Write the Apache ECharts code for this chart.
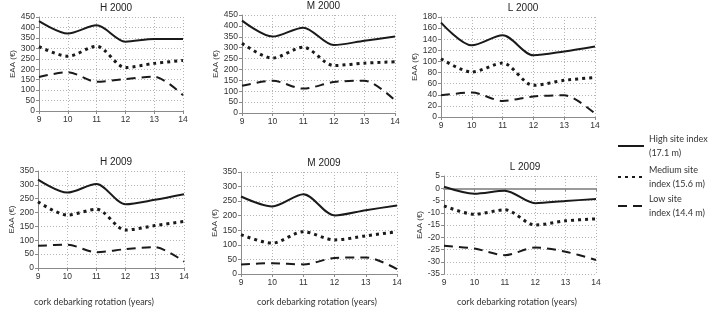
<!DOCTYPE html>
<html>
<head>
<meta charset="utf-8">
<script src="https://cdn.jsdelivr.net/npm/echarts@6/dist/echarts.min.js"></script>
<style>
  html, body { margin: 0; padding: 0; background: #fff; }
  #chart { width: 708px; height: 309px; }
</style>
</head>
<body>
<div id="chart"></div>
<script>
// rotation length (years)
const years = ['9', '10', '11', '12', '13', '14'];

// EAA values, one array per panel and site index
const h2000High = [430, 371, 410, 332, 345, 345];
const h2000Medium = [308, 262, 310, 208, 228, 242];
const h2000Low = [163, 186, 140, 153, 164, 75];

const m2000High = [424, 351, 392, 312, 332, 351];
const m2000Medium = [320, 252, 302, 218, 229, 235];
const m2000Low = [125, 148, 112, 142, 148, 58];

const l2000High = [170, 129, 147, 111, 118, 127];
const l2000Medium = [105, 81, 97, 57, 66, 71];
const l2000Low = [39, 44, 29, 37, 39, 6];

const h2009High = [319, 272, 303, 230, 246, 266];
const h2009Medium = [239, 191, 212, 137, 153, 168];
const h2009Low = [80, 84, 57, 68, 75, 23];

const m2009High = [266, 232, 274, 201, 219, 235];
const m2009Medium = [135, 106, 145, 117, 131, 145];
const m2009Low = [33, 37, 33, 55, 57, 17];

const l2009High = [0.6, -2.2, -1, -6.1, -5.2, -4.4];
const l2009Medium = [-7.2, -10.6, -8.8, -15, -13.3, -12.5];
const l2009Low = [-23.5, -24.6, -27.3, -24.2, -25.9, -29.3];

const seriesNames = ['High site index\n(17.1 m)', 'Medium site\nindex (15.6 m)', 'Low site\nindex (14.4 m)'];

const panels = [
  { title: 'H 2000', grid: [39, 17, 144, 94], y: [0, 450, 50], data: [h2000High, h2000Medium, h2000Low] },
  { title: 'M 2000', grid: [242, 15, 153, 98], y: [0, 450, 50], data: [m2000High, m2000Medium, m2000Low] },
  { title: 'L 2000', grid: [441, 17, 154, 100], y: [0, 180, 20], data: [l2000High, l2000Medium, l2000Low] },
  { title: 'H 2009', grid: [38, 171, 146, 97], y: [0, 350, 50], data: [h2009High, h2009Medium, h2009Low] },
  { title: 'M 2009', grid: [241, 172, 156, 102], y: [0, 350, 50], data: [m2009High, m2009Medium, m2009Low] },
  { title: 'L 2009', grid: [444, 176, 152, 98], y: [-35, 5, 5], data: [l2009High, l2009Medium, l2009Low] }
];

const lineStyles = [
  { color: '#1a1a1a', width: 2, type: 'solid' },
  { color: '#1a1a1a', width: 3, type: [3, 4], cap: 'butt' },
  { color: '#1a1a1a', width: 2, type: [9, 6], cap: 'butt' }
];

const axisFont = { fontFamily: 'Liberation Sans', fontSize: 8.5, color: '#333' };
const gridLine = { show: true, lineStyle: { color: '#b5b5b5', type: [1, 2], width: 1 } };

const chart = echarts.init(document.getElementById('chart'));

const title = [], grid = [], xAxis = [], yAxis = [], series = [];
panels.forEach((p, i) => {
  const [l, t, w, h] = p.grid;
  title.push({
    text: p.title, left: l + w / 2, top: t - 19, textAlign: 'center',
    textStyle: { fontFamily: 'Liberation Sans', fontSize: 10, fontWeight: 'normal', color: '#222' }
  });
  grid.push({ left: l, top: t, width: w, height: h });
  xAxis.push({
    type: 'category', gridIndex: i, data: years, boundaryGap: false,
    axisLine: { onZero: true, lineStyle: { color: p.y[0] < 0 ? '#9a9a9a' : '#8a8a8a', width: p.y[0] < 0 ? 2 : 1 } },
    axisTick: { show: true, length: 3, lineStyle: { color: '#8a8a8a' } },
    axisLabel: Object.assign({ margin: 4 }, axisFont),
    splitLine: gridLine
  });
  yAxis.push({
    type: 'value', gridIndex: i, min: p.y[0], max: p.y[1], interval: p.y[2],
    name: 'EAA (€)', nameLocation: 'middle', nameGap: 19,
    nameTextStyle: { fontFamily: 'Liberation Sans', fontSize: 8, color: '#333' },
    axisLine: { show: true, onZero: false, lineStyle: { color: '#8a8a8a' } },
    axisTick: { show: true, length: 3, lineStyle: { color: '#8a8a8a' } },
    axisLabel: Object.assign({ margin: 4 }, axisFont),
    splitLine: gridLine
  });
  p.data.forEach((vals, k) => {
    series.push({
      name: seriesNames[k], type: 'line', xAxisIndex: i, yAxisIndex: i,
      data: vals, smooth: 0.3, symbol: 'none', showSymbol: false,
      lineStyle: lineStyles[k], silent: true
    });
  });
});

const legendTops = [146, 177, 206];
const legend = seriesNames.map((name, k) => ({
  data: [name], orient: 'vertical', left: 617, top: legendTops[k] - 21, padding: 0,
  itemWidth: 26, itemHeight: 14, itemGap: 0,
  itemStyle: { opacity: 0 },
  textStyle: { fontFamily: 'Lato', fontSize: 9, color: '#333', lineHeight: 14, padding: [14, 0, 0, 0] }
}));

const xNames = [
  { x: 94, y: 302 },
  { x: 317, y: 302 },
  { x: 517, y: 302 }
];

chart.setOption({
  animation: false,
  title, grid, xAxis, yAxis, series, legend,
  graphic: xNames.map(n => ({
    type: 'text', x: n.x, y: n.y, silent: true,
    style: {
      text: 'cork debarking rotation (years)',
      align: 'center', verticalAlign: 'middle',
      font: '9px Lato', fill: '#333'
    }
  }))
});

window.addEventListener('resize', () => chart.resize());
</script>
</body>
</html>
